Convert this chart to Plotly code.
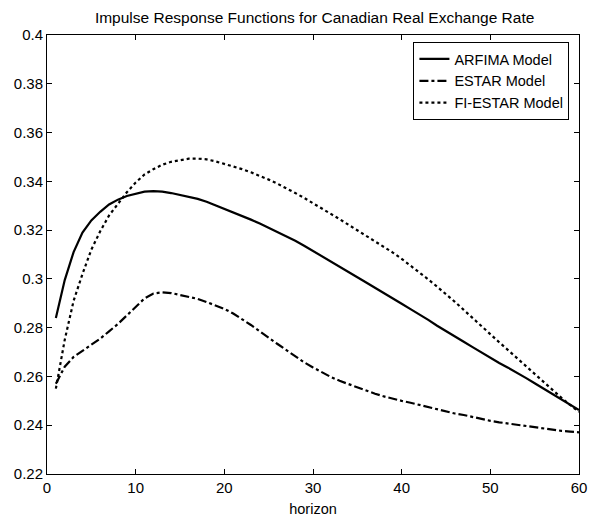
import plotly.graph_objects as go

horizon = list(range(1, 61))

arfima = [0.284, 0.2995, 0.311, 0.319, 0.324, 0.3275, 0.3305, 0.3325, 0.334, 0.335,
          0.3358, 0.336, 0.3358, 0.3352, 0.3345, 0.3337, 0.3328, 0.3316, 0.3302, 0.3288,
          0.3273, 0.3258, 0.3243, 0.3227, 0.321, 0.3193, 0.3175, 0.3156, 0.3136, 0.3115,
          0.3093, 0.3072, 0.305, 0.3028, 0.3007, 0.2985, 0.2964, 0.2942, 0.292, 0.2898,
          0.2876, 0.2855, 0.2832, 0.2808, 0.2785, 0.2763, 0.2742, 0.272, 0.2698, 0.2676,
          0.2655, 0.2636, 0.2616, 0.2594, 0.2572, 0.255, 0.2527, 0.2504, 0.2482, 0.2462]

estar = [0.257, 0.264, 0.268, 0.2705, 0.2728, 0.2755, 0.2785, 0.2815, 0.285, 0.2885,
         0.292, 0.294, 0.2945, 0.2942, 0.2935, 0.2927, 0.2918, 0.2905, 0.2892, 0.2877,
         0.2858, 0.2836, 0.2811, 0.2785, 0.2758, 0.2733, 0.2708, 0.2682, 0.2658, 0.2637,
         0.2617, 0.2598, 0.2582, 0.2568, 0.2555, 0.2542, 0.2529, 0.2518, 0.2508, 0.25,
         0.2492, 0.2483, 0.2472, 0.2463, 0.2455, 0.2448, 0.2442, 0.2433, 0.2425, 0.2418,
         0.2412, 0.2407, 0.2403, 0.2398, 0.2392, 0.2385, 0.238, 0.2377, 0.2374, 0.2371]

fi_estar = [0.255, 0.275, 0.291, 0.302, 0.312, 0.3195, 0.326, 0.331, 0.3355, 0.3395,
            0.3428, 0.345, 0.3468, 0.348, 0.3488, 0.3493, 0.3493, 0.349, 0.3482, 0.3472,
            0.3462, 0.345, 0.3437, 0.3423, 0.3407, 0.339, 0.3372, 0.3352, 0.3332, 0.3311,
            0.329, 0.3268, 0.3245, 0.3222, 0.3199, 0.3177, 0.3155, 0.3132, 0.3108, 0.3082,
            0.3055, 0.3027, 0.2998, 0.2968, 0.2938, 0.2906, 0.2873, 0.2839, 0.2806, 0.2773,
            0.274, 0.2708, 0.2675, 0.2642, 0.261, 0.2578, 0.2545, 0.2513, 0.2483, 0.2455]

series_names = ["ARFIMA Model", "ESTAR Model", "FI-ESTAR Model"]
x_ticks = [0, 10, 20, 30, 40, 50, 60]
y_ticks = [0.22, 0.24, 0.26, 0.28, 0.3, 0.32, 0.34, 0.36, 0.38, 0.4]
y_tick_labels = ["0.22", "0.24", "0.26", "0.28", "0.3", "0.32", "0.34", "0.36", "0.38", "0.4"]

fig = go.Figure()
fig.add_trace(go.Scatter(x=horizon, y=arfima, mode="lines", name=series_names[0],
                         line=dict(color="black", width=2.2, dash="solid")))
fig.add_trace(go.Scatter(x=horizon, y=estar, mode="lines", name=series_names[1],
                         line=dict(color="black", width=2.2, dash="dashdot")))
fig.add_trace(go.Scatter(x=horizon, y=fi_estar, mode="lines", name=series_names[2],
                         line=dict(color="black", width=2.2, dash="dot")))

axis_common = dict(showgrid=False, zeroline=False, showline=True, linecolor="black",
                   linewidth=1, mirror="allticks", ticks="inside", ticklen=5,
                   tickcolor="black", tickfont=dict(size=15, color="black"))

fig.update_layout(
    width=597, height=525,
    margin=dict(l=47, r=10, t=35, b=51),
    paper_bgcolor="white", plot_bgcolor="white",
    font=dict(family="Liberation Sans, Arial, sans-serif", size=14, color="black"),
    title=dict(text="Impulse Response Functions for Canadian Real Exchange Rate",
               x=0.527, xanchor="center", y=0.967, yanchor="middle",
               font=dict(size=15.5, color="black")),
    xaxis=dict(range=[0, 60], tickvals=x_ticks, title=dict(text="horizon", standoff=8,
               font=dict(size=14.5)), **axis_common),
    yaxis=dict(range=[0.22, 0.4], tickvals=y_ticks, ticktext=y_tick_labels, **axis_common),
    legend=dict(x=0.982, y=0.984, xanchor="right", yanchor="top",
                bgcolor="white", bordercolor="black", borderwidth=1,
                font=dict(size=14.5, color="black"), tracegroupgap=0, itemwidth=30),
    showlegend=True,
)

fig.write_html("out.html")
